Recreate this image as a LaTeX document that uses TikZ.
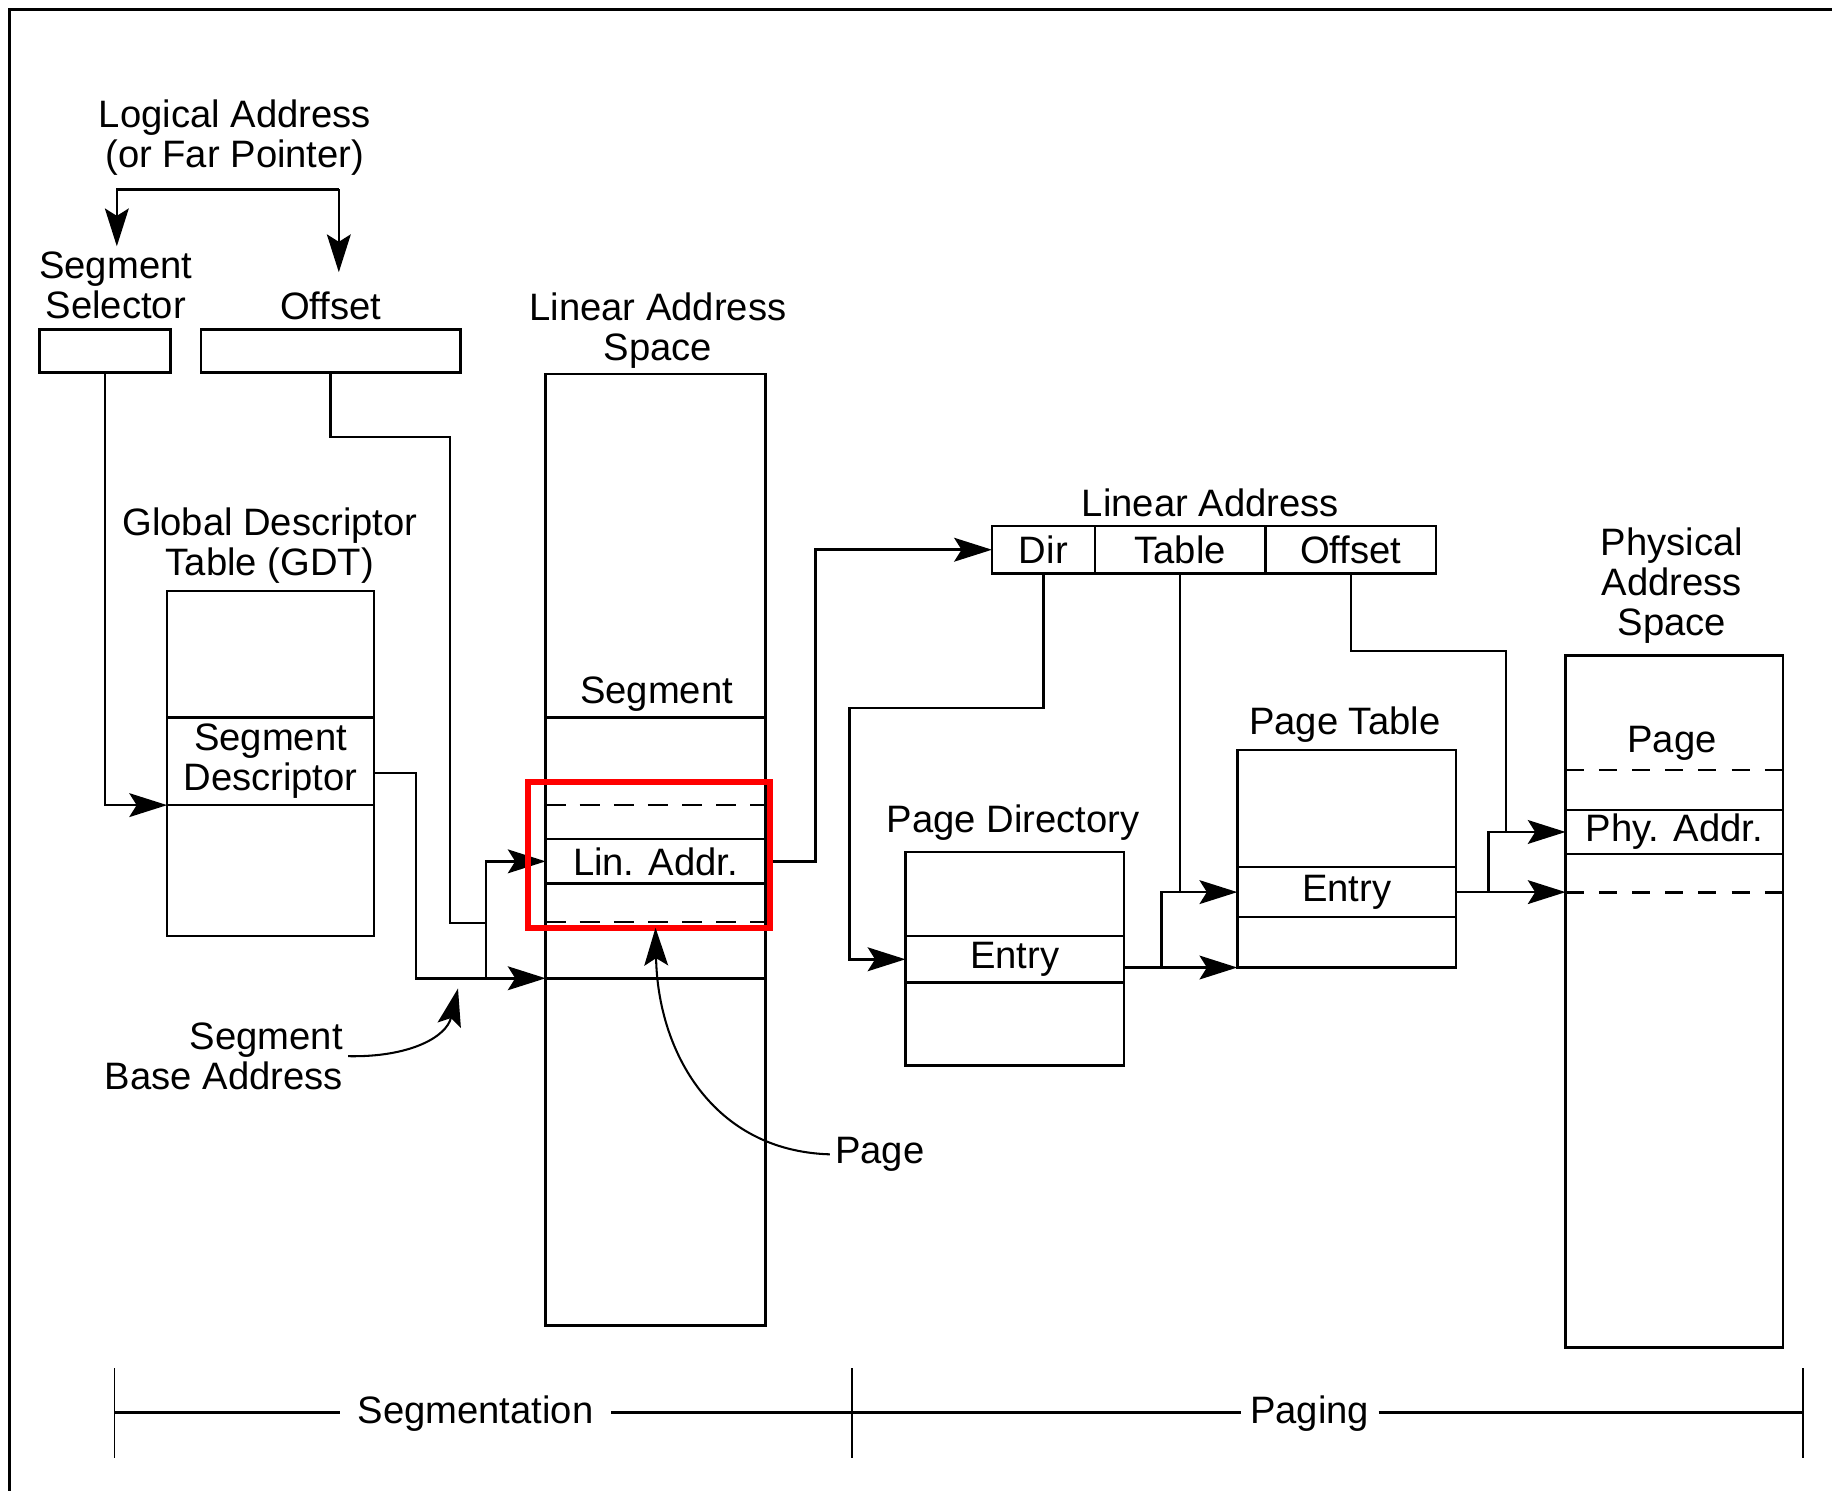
\documentclass[tikz,border=0pt]{standalone}
\usepackage{fontspec}
\setmainfont{Liberation Sans}
\usetikzlibrary{arrows.meta, positioning, calc}

\begin{document}
\begin{tikzpicture}[x=0.01cm, y=-0.01cm, line width=0.6pt,
    font=\fontsize{9.3}{9.7}\selectfont,
    cell/.style={draw, inner sep=1pt, outer sep=0pt, anchor=north west, align=center},
    lbl/.style={align=center, inner sep=1pt},
    arr/.style={-{Stealth[length=9.2pt, width=5.8pt, inset=1.8pt]}},
    segdash/.style={dash pattern=on 4.9pt off 3.4pt},
    physdash/.style={dash pattern=on 4.4pt off 3.68pt},
    redframe/.style={draw=red, line width=1.4pt, inner sep=0pt, outer sep=0pt, anchor=north west}]

  \useasboundingbox (0,0) rectangle (1568,1276);

  % Frame
  \draw (8,1276) -- (8,8) -- (1568,8);

  %% ===== SEGMENTATION =====

  % Logical address
  \node[lbl] (logttl) at (201,118) {Logical Address\\(or Far Pointer)};
  \node[lbl] (selttl) at (99,244) {Segment\\Selector};
  \node[lbl] (offttl) at (283,262) {Offset};
  \node[cell, minimum width=1.12cm, minimum height=0.37cm] (selbox) at (34,282) {};
  \node[cell, minimum width=2.22cm, minimum height=0.37cm] (offbox) at (172,282) {};

  \coordinate (brl) at (100,162);
  \coordinate (brr) at (290,162);
  \draw[arr] (brr) -- (brl) -- (brl |- selttl.north);
  \draw[arr] (brr) -- ++(0,71);

  % Global descriptor table
  \node[lbl] (gdtttl) at (231,467) {Global Descriptor\\Table (GDT)};
  \node[cell, minimum width=1.77cm, minimum height=1.08cm] (gdttop) at (143,506) {};
  \node[cell, minimum width=1.77cm, minimum height=0.75cm, below=0pt of gdttop] (gdtdesc) {Segment\\Descriptor};
  \node[cell, minimum width=1.77cm, minimum height=1.12cm, below=0pt of gdtdesc] (gdtbot) {};

  % Linear address space
  \node[lbl] (lasttl) at (563,283) {Linear Address\\Space};
  \node[cell, minimum width=1.88cm, minimum height=2.94cm] (lastop) at (467,320) {};
  \node[cell, minimum width=1.88cm, minimum height=1.04cm, below=0pt of lastop] (lasseg) {};
  \node[cell, minimum width=1.88cm, minimum height=0.38cm, below=0pt of lasseg] (lasaddr) {Lin. Addr.};
  \node[cell, minimum width=1.88cm, minimum height=0.81cm, below=0pt of lasaddr] (lasmid) {};
  \node[cell, minimum width=1.88cm, minimum height=2.97cm, below=0pt of lasmid] (lasbot) {};
  \node[lbl] (seglbl) at (562,594) {Segment};
  \draw[segdash] (467,689) -- (655,689);
  \draw[segdash] (467,789) -- (655,789);

  % Selector and offset paths
  \draw[arr] (selbox.south) |- (gdtdesc.south west);
  \coordinate (descdrop) at (356,0);
  \coordinate (basejoin) at (416,0);
  \draw (offbox.south) |- (385,374) |- (416,790);
  \draw[arr] ($(gdtdesc.east)+(0,10)$) -| (descdrop |- lasbot.north west) -- (lasbot.north west);
  \draw[arr] (basejoin |- lasbot.north west) |- (lasaddr.west);

  % Segment base address label
  \node[lbl, align=right, anchor=east] (baselbl) at (298,904) {Segment\\Base Address};
  \coordinate (basetip) at (392,846);
  \draw[arr, line width=0.5pt] (baselbl.east) .. controls (350,905) and (382,888) .. (basetip);

  %% ===== PAGING =====

  % Linear address fields
  \node[lbl] (laddrttl) at (1036,430) {Linear Address};
  \node[cell, minimum width=0.88cm, minimum height=0.41cm] (ladir) at (849,450) {Dir};
  \node[cell, minimum width=1.46cm, minimum height=0.41cm, right=0pt of ladir] (latab) {Table};
  \node[cell, minimum width=1.46cm, minimum height=0.41cm, right=0pt of latab] (laoff) {Offset};

  % Page directory
  \node[lbl] (pdttl) at (867,704) {Page Directory};
  \node[cell, minimum width=1.87cm, minimum height=0.72cm] (pdtop) at (775,729) {};
  \node[cell, minimum width=1.87cm, minimum height=0.40cm, below=0pt of pdtop] (pdentry) {Entry};
  \node[cell, minimum width=1.87cm, minimum height=0.71cm, below=0pt of pdentry] (pdbot) {};

  % Page table
  \node[lbl] (ptttl) at (1151,620) {Page Table};
  \node[cell, minimum width=1.87cm, minimum height=1.00cm] (pttop) at (1059,642) {};
  \node[cell, minimum width=1.87cm, minimum height=0.43cm, below=0pt of pttop] (ptentry) {Entry};
  \node[cell, minimum width=1.87cm, minimum height=0.43cm, below=0pt of ptentry] (ptbot) {};

  % Physical address space
  \node[lbl] (physttl) at (1431,501) {Physical\\Address\\Space};
  \node[cell, minimum width=1.86cm, minimum height=1.32cm] (phtop) at (1340,561) {};
  \node[cell, minimum width=1.86cm, minimum height=0.38cm, below=0pt of phtop] (phaddr) {Phy. Addr.};
  \node[cell, minimum width=1.86cm, minimum height=4.22cm, below=0pt of phaddr] (phbot) {};
  \node[lbl] (phpage) at (1431,636) {Page};
  \draw[physdash] (1340,659) -- (1526,659);
  \draw[physdash] (1340,764) -- (1526,764);

  % Paging paths
  \draw[arr] (lasaddr.east) -- ++(43,0) |- (ladir.west);
  \draw[arr] (ladir.south) |- (727,606) |- (pdentry.west);
  \coordinate (pdjoin) at (994,0);
  \draw[arr] (pdentry.east |- ptbot.south) -- (ptbot.south west);
  \draw[arr] (pdjoin |- ptbot.south) |- (ptentry.west);
  \draw (latab.south) -- (latab.south |- ptentry.west);
  \coordinate (ptjoin) at (1274,0);
  \draw[arr] (ptentry.east) -- (phbot.west |- ptentry.east);
  \draw[arr] (ptjoin |- ptentry.east) |- (phaddr.west);
  \coordinate (offdrop) at (1289,557);
  \draw (laoff.south) |- (offdrop) -- (offdrop |- phaddr.west);

  % Highlight and page label
  \node[redframe, minimum width=2.07cm, minimum height=1.25cm] (focus) at (452,669) {};
  \node[lbl] (pagelbl) at (753,988) {Page};
  \draw[arr, line width=0.5pt] (pagelbl.west) .. controls (610,985) and (563,900) .. (focus.south -| lasaddr.south);

  %% ===== SCALE =====
  \foreach \x in {98,729,1543}
    \draw[line width=0.4pt] (\x,1171) -- (\x,1248);
  \coordinate (tickl) at (98,1209);
  \coordinate (tickm) at (729,1209);
  \coordinate (tickr) at (1543,1209);
  \node[lbl, inner xsep=4pt] (segtxt) at (407,1210) {Segmentation};
  \node[lbl, inner xsep=2pt] (pagtxt) at (1121,1210) {Paging};
  \draw (tickl) -- (tickl -| segtxt.west);
  \draw (tickm -| segtxt.east) -- (tickm) -- (tickm -| pagtxt.west);
  \draw (tickr -| pagtxt.east) -- (tickr);

\end{tikzpicture}
\end{document}
